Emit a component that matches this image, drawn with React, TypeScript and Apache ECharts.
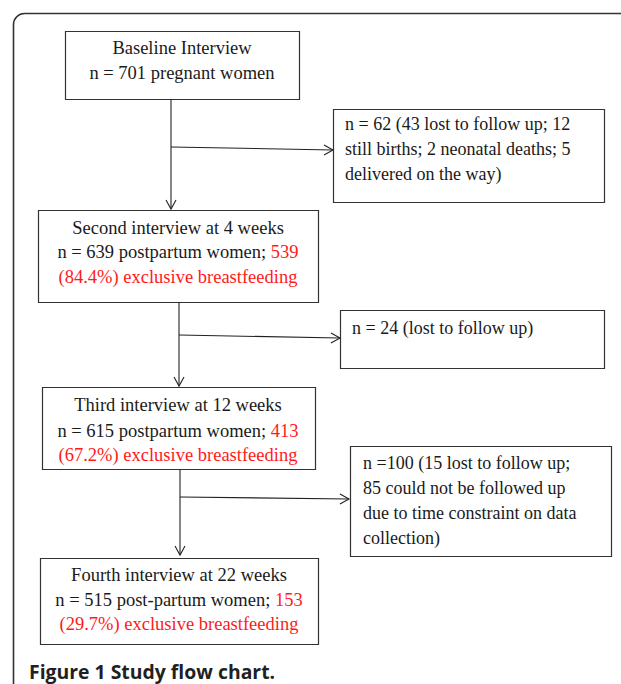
import React, { useEffect, useRef } from "react";
import * as echarts from "echarts";

// ---- Data ----
const stageTitles = [
  "Baseline Interview",
  "Second interview at 4 weeks",
  "Third interview at 12 weeks",
  "Fourth interview at 22 weeks",
];
const stageCounts = [701, 639, 615, 515];
const stageGroups = ["pregnant women", "postpartum women", "postpartum women", "post-partum women"];
const ebfCounts = [null, 539, 413, 153];
const ebfPercents = [null, "84.4%", "67.2%", "29.7%"];
const exclusionLines = [
  ["n = 62 (43 lost to follow up; 12", "still births; 2 neonatal deaths; 5", "delivered on the way)"],
  ["n = 24 (lost to follow up)"],
  ["n =100 (15 lost to follow up;", "85 could not be followed up", "due to time constraint on data", "collection)"],
];
const caption = "Figure 1 Study flow chart.";

// ---- Layout (positions only) ----
const mainBoxes = [
  { x: 65, y: 31, w: 234, h: 68, cx: 182, lines: [48, 73] },
  { x: 38, y: 210, w: 280, h: 92, cx: 178, lines: [228, 252, 277] },
  { x: 42, y: 387, w: 273, h: 82, cx: 178, lines: [405, 431, 455] },
  { x: 40, y: 558, w: 278, h: 86, cx: 179, lines: [575, 600, 624] },
];
const sideBoxes = [
  { x: 333, y: 109, w: 271, h: 93, tx: 345, lines: [124, 149, 174] },
  { x: 340, y: 310, w: 264, h: 58, tx: 352, lines: [328] },
  { x: 350, y: 446, w: 261, h: 110, tx: 363, lines: [463, 488, 513, 538] },
];
const connectors = [
  { vx: 171, vy1: 99, vy2: 209, by1: 147, by2: 150, bx2: 333 },
  { vx: 179, vy1: 302, vy2: 386, by1: 335, by2: 338, bx2: 340 },
  { vx: 180, vy1: 469, vy2: 555, by1: 497, by2: 499, bx2: 349 },
];

const FONT = "'Liberation Serif', 'Times New Roman', serif";
const FS = 18.5;
const FS_SIDE = 18;
const TXT = "#1a1a1a";
const RED = "#ff1a1a";

export default function App() {
  const ref = useRef<HTMLDivElement>(null);
  useEffect(() => {
    if (!ref.current) return;
    const chart = echarts.init(ref.current, undefined, { renderer: "svg" });
    const els: any[] = [];

    // outer frame
    els.push({
      type: "rect",
      shape: { x: 13.5, y: 13.5, width: 800, height: 900, r: [11, 0, 0, 0] },
      style: { fill: "none", stroke: "#333", lineWidth: 1.6 },
      silent: true,
    });

    const textStyle = (fs: number, extra: any) => ({
      fontFamily: FONT,
      fontSize: fs,
      fill: TXT,
      verticalAlign: "middle",
      ...extra,
    });

    mainBoxes.forEach((b, i) => {
      els.push({
        type: "rect",
        shape: { x: b.x + 0.5, y: b.y + 0.5, width: b.w, height: b.h },
        style: { fill: "#fff", stroke: "#333", lineWidth: 1.2 },
      });
      const lines: string[] = [stageTitles[i]];
      if (ebfCounts[i] == null) {
        lines.push(`n = ${stageCounts[i]} ${stageGroups[i]}`);
      } else {
        lines.push(`n = ${stageCounts[i]} ${stageGroups[i]}; {r|${ebfCounts[i]}}`);
        lines.push(`{r|(${ebfPercents[i]}) exclusive breastfeeding}`);
      }
      lines.forEach((t, j) => {
        els.push({
          type: "text",
          x: b.cx,
          y: b.lines[j],
          style: textStyle(FS, {
            text: t,
            align: "center",
            rich: { r: { fill: RED, fontFamily: FONT, fontSize: FS } },
          }),
        });
      });
    });

    sideBoxes.forEach((b, i) => {
      els.push({
        type: "rect",
        shape: { x: b.x + 0.5, y: b.y + 0.5, width: b.w, height: b.h },
        style: { fill: "#fff", stroke: "#333", lineWidth: 1.2 },
      });
      exclusionLines[i].forEach((t, j) => {
        els.push({
          type: "text",
          x: b.tx,
          y: b.lines[j],
          style: textStyle(FS_SIDE, { text: t, align: "left" }),
        });
      });
    });

    const lineStyle = { stroke: "#222", lineWidth: 1.1, fill: "none" };
    connectors.forEach((c) => {
      els.push({
        type: "line",
        shape: { x1: c.vx, y1: c.vy1, x2: c.vx, y2: c.vy2 },
        style: lineStyle,
      });
      els.push({
        type: "polyline",
        shape: { points: [[c.vx - 5, c.vy2 - 9], [c.vx, c.vy2], [c.vx + 5, c.vy2 - 9]] },
        style: lineStyle,
      });
      els.push({
        type: "line",
        shape: { x1: c.vx, y1: c.by1, x2: c.bx2, y2: c.by2 },
        style: lineStyle,
      });
      els.push({
        type: "polyline",
        shape: { points: [[c.bx2 - 9, c.by2 - 5], [c.bx2, c.by2], [c.bx2 - 9, c.by2 + 5]] },
        style: lineStyle,
      });
    });

    els.push({
      type: "text",
      x: 29,
      y: 671,
      style: {
        text: caption,
        fontFamily: "'Open Sans', 'Noto Sans', sans-serif",
        fontWeight: "bold",
        fontSize: 19.4,
        fill: "#231f20",
        align: "left",
        verticalAlign: "middle",
      },
    });

    chart.setOption({
      animation: false,
      backgroundColor: "#ffffff",
      graphic: { elements: els },
    });
    return () => chart.dispose();
  }, []);
  return (
    <div
      ref={ref}
      style={{ position: "absolute", left: 0, top: 0, width: 621, height: 684 }}
    />
  );
}
